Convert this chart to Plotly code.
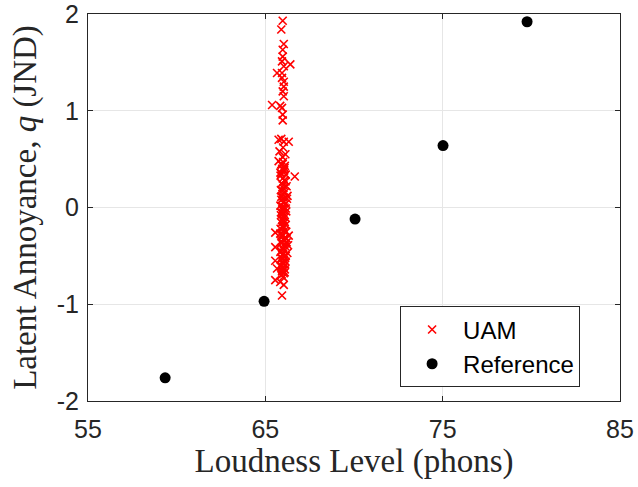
import plotly.graph_objects as go

# UAM loudness level (phons) and latent annoyance q (JND)
uam_loudness = [
    65.98, 65.90, 66.04, 65.98, 65.98, 65.94, 66.41, 66.04, 65.66, 65.94,
    65.94, 66.04, 66.04, 65.98, 66.04, 65.38, 65.84, 65.94, 65.98, 65.98,
    65.75, 66.04, 66.32, 65.90, 66.13, 65.75, 66.66, 66.00, 65.80,
    66.00, 65.90, 66.10, 65.95, 66.05, 65.85, 66.15, 65.98, 66.08, 65.92,
    66.20, 66.02, 65.88, 66.12, 65.96, 66.25, 66.05, 65.90, 66.00, 66.15,
    65.85, 66.08, 65.95, 66.18, 66.02, 65.88, 66.10, 65.98, 66.05, 65.92,
    66.15, 66.00, 65.86, 66.08, 65.56, 66.32, 65.96, 66.12, 66.02, 65.90,
    66.20, 66.05, 66.28, 65.56, 65.95, 66.10, 65.85, 66.00, 66.15, 65.92,
    65.56, 66.05, 65.98, 66.12, 65.88, 65.66, 66.02, 66.09, 65.94, 65.56,
    65.84, 66.04, 65.94, 65.90, 66.00,
    65.92, 66.08, 65.86, 66.14, 66.02, 65.96, 66.22, 65.90, 66.06, 65.98,
    66.16, 65.88, 66.04, 65.94, 66.10, 66.00, 65.84, 66.18, 65.96, 66.06,
    65.90, 66.12, 66.02, 65.88, 66.24, 65.98, 66.08, 65.94, 66.14, 66.00,
    65.86, 66.10, 65.96, 66.04, 65.92, 66.20, 66.02, 65.90, 66.06, 65.98,
]
uam_q = [
    1.93, 1.84, 1.69, 1.63, 1.56, 1.51, 1.48, 1.46, 1.39, 1.39,
    1.34, 1.30, 1.25, 1.20, 1.15, 1.06, 1.05, 1.03, 0.96, 0.90,
    0.70, 0.68, 0.68, 0.71, 0.55, 0.48, 0.32, 0.62, 0.58,
    0.47, 0.45, 0.43, 0.40, 0.38, 0.36, 0.34, 0.30, 0.28, 0.25,
    0.22, 0.20, 0.18, 0.16, 0.14, 0.12, 0.10, 0.08, 0.05, 0.04,
    0.02, 0.00, -0.02, -0.04, -0.06, -0.08, -0.10, -0.12, -0.14, -0.16,
    -0.18, -0.20, -0.22, -0.24, -0.26, -0.29, -0.28, -0.31, -0.33, -0.35,
    -0.36, -0.38, -0.39, -0.41, -0.42, -0.44, -0.46, -0.48, -0.50, -0.52,
    -0.55, -0.54, -0.57, -0.59, -0.60, -0.63, -0.62, -0.67, -0.66, -0.75,
    -0.77, -0.80, -0.91, -0.70, -0.72,
    0.44, 0.41, 0.33, 0.27, 0.23, 0.17, 0.09, 0.11, 0.06, 0.01,
    -0.01, -0.05, -0.09, -0.13, -0.15, -0.19, -0.27, -0.25, -0.30, -0.34,
    -0.37, -0.40, -0.43, -0.45, -0.47, -0.49, -0.51, -0.53, -0.56, -0.58,
    -0.61, -0.64, -0.65, -0.68, -0.69, -0.32, -0.21, 0.35, 0.39, 0.52,
]

# Reference sounds
ref_loudness = [59.35, 64.93, 70.06, 75.02, 79.76]
ref_q = [-1.76, -0.97, -0.12, 0.64, 1.92]

x_ticks = [55, 65, 75, 85]
y_ticks = [-2, -1, 0, 1, 2]

fig = go.Figure()
fig.add_trace(go.Scatter(
    x=uam_loudness, y=uam_q, mode="markers", name="UAM",
    marker=dict(symbol="x-thin", size=8, color="red",
                line=dict(color="red", width=1.6)),
))
fig.add_trace(go.Scatter(
    x=ref_loudness, y=ref_q, mode="markers", name="Reference",
    marker=dict(symbol="circle", size=11, color="black"),
))

sans = "Liberation Sans, Arial, sans-serif"
serif = "Liberation Serif, Times New Roman, serif"

axis_common = dict(
    showline=True, linecolor="#262626", linewidth=1, mirror="ticks",
    ticks="inside", ticklen=5, tickcolor="#262626",
    showgrid=True, gridcolor="#e6e6e6", gridwidth=1, zeroline=False,
    ticklabeloverflow="allow", automargin=False,
    tickfont=dict(family=sans, size=25, color="#262626"),
)

fig.update_layout(
    width=638, height=487,
    margin=dict(l=88, r=18, t=14, b=86),
    paper_bgcolor="white", plot_bgcolor="white",
    xaxis=dict(
        range=[55, 85], tickvals=x_ticks, ticktext=[str(v) for v in x_ticks],
        ticklabelstandoff=6,
        title=dict(text="Loudness Level (phons)", standoff=6,
                   font=dict(family=serif, size=33, color="#262626")),
        **axis_common,
    ),
    yaxis=dict(
        range=[-2, 2], tickvals=y_ticks, ticktext=[str(v) for v in y_ticks],
        ticklabelstandoff=3,
        title=dict(text="Latent Annoyance, <i>q</i> (JND)", standoff=10,
                   font=dict(family=serif, size=33, color="#262626")),
        **axis_common,
    ),
    legend=dict(
        x=0.925, y=0.035, xanchor="right", yanchor="bottom",
        bgcolor="white", bordercolor="#262626", borderwidth=1,
        itemwidth=52,
        font=dict(family=sans, size=24, color="black"),
    ),
    showlegend=True,
)

fig.write_html("out.html")
